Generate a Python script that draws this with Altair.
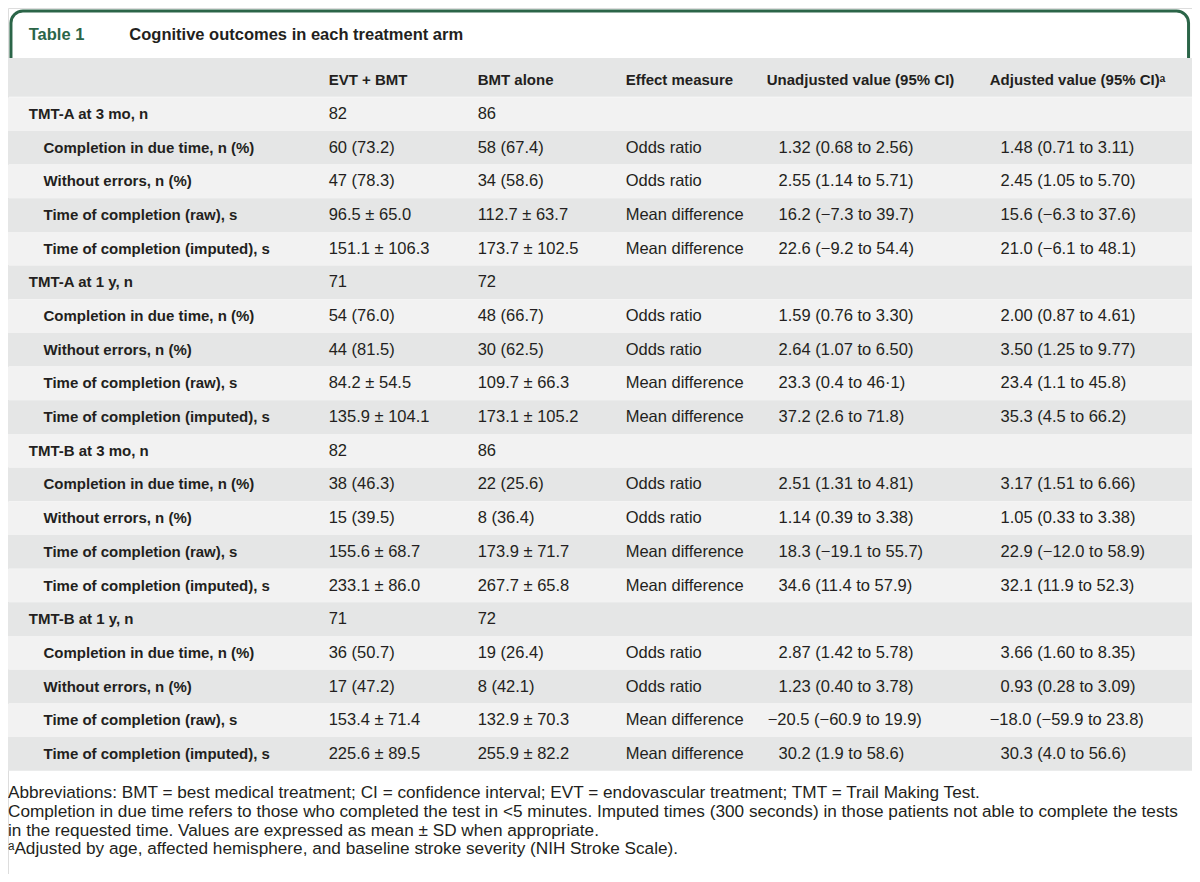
import altair as alt
import pandas as pd

# ---------------- data ----------------
title_num = "Table 1"
title_text = "Cognitive outcomes in each treatment arm"

headers = ["EVT + BMT", "BMT alone", "Effect measure",
           "Unadjusted value (95% CI)", "Adjusted value (95% CI)ᵃ"]

sub_labels = ["Completion in due time, n (%)", "Without errors, n (%)",
              "Time of completion (raw), s", "Time of completion (imputed), s"]
groups = ["TMT-A at 3 mo, n", "TMT-A at 1 y, n", "TMT-B at 3 mo, n", "TMT-B at 1 y, n"]

evt = ["82", "60 (73.2)", "47 (78.3)", "96.5 ± 65.0", "151.1 ± 106.3",
       "71", "54 (76.0)", "44 (81.5)", "84.2 ± 54.5", "135.9 ± 104.1",
       "82", "38 (46.3)", "15 (39.5)", "155.6 ± 68.7", "233.1 ± 86.0",
       "71", "36 (50.7)", "17 (47.2)", "153.4 ± 71.4", "225.6 ± 89.5"]
bmt = ["86", "58 (67.4)", "34 (58.6)", "112.7 ± 63.7", "173.7 ± 102.5",
       "72", "48 (66.7)", "30 (62.5)", "109.7 ± 66.3", "173.1 ± 105.2",
       "86", "22 (25.6)", "8 (36.4)", "173.9 ± 71.7", "267.7 ± 65.8",
       "72", "19 (26.4)", "8 (42.1)", "132.9 ± 70.3", "255.9 ± 82.2"]
effect = ["", "Odds ratio", "Odds ratio", "Mean difference", "Mean difference"] * 4
unadj = ["", "1.32 (0.68 to 2.56)", "2.55 (1.14 to 5.71)", "16.2 (−7.3 to 39.7)", "22.6 (−9.2 to 54.4)",
         "", "1.59 (0.76 to 3.30)", "2.64 (1.07 to 6.50)", "23.3 (0.4 to 46·1)", "37.2 (2.6 to 71.8)",
         "", "2.51 (1.31 to 4.81)", "1.14 (0.39 to 3.38)", "18.3 (−19.1 to 55.7)", "34.6 (11.4 to 57.9)",
         "", "2.87 (1.42 to 5.78)", "1.23 (0.40 to 3.78)", "−20.5 (−60.9 to 19.9)", "30.2 (1.9 to 58.6)"]
adj = ["", "1.48 (0.71 to 3.11)", "2.45 (1.05 to 5.70)", "15.6 (−6.3 to 37.6)", "21.0 (−6.1 to 48.1)",
       "", "2.00 (0.87 to 4.61)", "3.50 (1.25 to 9.77)", "23.4 (1.1 to 45.8)", "35.3 (4.5 to 66.2)",
       "", "3.17 (1.51 to 6.66)", "1.05 (0.33 to 3.38)", "22.9 (−12.0 to 58.9)", "32.1 (11.9 to 52.3)",
       "", "3.66 (1.60 to 8.35)", "0.93 (0.28 to 3.09)", "−18.0 (−59.9 to 23.8)", "30.3 (4.0 to 56.6)"]

footnotes = [
    "Abbreviations: BMT = best medical treatment; CI = confidence interval; EVT = endovascular treatment; TMT = Trail Making Test.",
    "Completion in due time refers to those who completed the test in <5 minutes. Imputed times (300 seconds) in those patients not able to complete the tests",
    "in the requested time. Values are expressed as mean ± SD when appropriate.",
    "ᵃAdjusted by age, affected hemisphere, and baseline stroke severity (NIH Stroke Scale).",
]

# ---------------- layout (reference pixel space 1200 x 882) ----------------
FONT = "Liberation Sans"
TXT = "#231f20"
GREEN = "#2b6548"
LIGHT = "#f2f2f2"
DARK = "#e5e6e6"

W, H = 1184, 866
ROW0, ROWH = 108.0, 34.3
HEAD_Y = 73
col_x = [325, 476, 626, 781, 1006]
head_x = [325, 476, 626, 769, 995]

labels = []
for g in groups:
    labels.append(g)
    labels.extend(sub_labels)

# backgrounds
bg = [{"x": 0, "x2": 1200, "y": 51, "y2": 90.5, "c": DARK}]
for i in range(len(labels)):
    yc = ROW0 + ROWH * i
    bg.append({"x": 0, "x2": 1200, "y": yc - ROWH / 2, "y2": yc + ROWH / 2,
               "c": LIGHT if i % 2 == 0 else DARK})
bg_df = pd.DataFrame(bg)

bold_rows, norm_rows = [], []
for i, lab in enumerate(labels):
    yc = ROW0 + ROWH * i
    is_group = lab.startswith("TMT")
    bold_rows.append({"x": 21 if is_group else 36, "y": yc, "t": lab})
    for cx, col in zip(col_x, [evt, bmt, effect, unadj, adj]):
        v = col[i]
        if v:
            off = -11 if v.startswith("−") else 0
            norm_rows.append({"x": cx + off, "y": yc, "t": v})
for hx, h in zip(head_x, headers):
    bold_rows.append({"x": hx, "y": HEAD_Y, "t": h})

bold_df = pd.DataFrame(bold_rows)
norm_df = pd.DataFrame(norm_rows)
foot_df = pd.DataFrame({"x": [0] * 4, "y": [800, 819, 838, 857], "t": footnotes})

xs = alt.Scale(domain=[0, 1200], nice=False, zero=False)
ys = alt.Scale(domain=[0, 882], nice=False, zero=False, reverse=True)
X = lambda f="x": alt.X(f"{f}:Q", scale=xs, axis=None)
Y = lambda f="y": alt.Y(f"{f}:Q", scale=ys, axis=None)

# title tab border
tab_df = pd.DataFrame({"x": [3], "x2": [1196.5], "y": [3], "y2": [80]})
tab = alt.Chart(tab_df).mark_rect(cornerRadius=12, fill="white", stroke=GREEN, strokeWidth=3).encode(
    x=X(), x2="x2:Q", y=Y(), y2="y2:Q")

bgs = alt.Chart(bg_df).mark_rect().encode(
    x=X(), x2="x2:Q", y=Y(), y2="y2:Q", color=alt.Color("c:N", scale=None))

title_df = pd.DataFrame({"x": [21, 123], "y": [27, 27], "t": [title_num, title_text],
                         "c": [GREEN, TXT]})
titles = alt.Chart(title_df).mark_text(align="left", baseline="middle", font=FONT,
                                       fontSize=16.5, fontWeight="bold").encode(
    x=X(), y=Y(), text="t:N", color=alt.Color("c:N", scale=None))

bold_t = alt.Chart(bold_df).mark_text(align="left", baseline="middle", font=FONT,
                                      fontSize=15, fontWeight="bold", color=TXT).encode(
    x=X(), y=Y(), text="t:N")
norm_t = alt.Chart(norm_df).mark_text(align="left", baseline="middle", font=FONT,
                                      fontSize=16.5, color=TXT).encode(
    x=X(), y=Y(), text="t:N")
foot_t = alt.Chart(foot_df).mark_text(align="left", baseline="middle", font=FONT,
                                      fontSize=17.2, color=TXT).encode(
    x=X(), y=Y(), text="t:N")

chart = alt.layer(tab, bgs, titles, bold_t, norm_t, foot_t).properties(
    width=W, height=H, padding=0, autosize=alt.AutoSizeParams(type="none")
).configure_view(stroke=None).configure(background="white")

chart.save("out.html", embed_options={"renderer": "svg", "actions": False})
